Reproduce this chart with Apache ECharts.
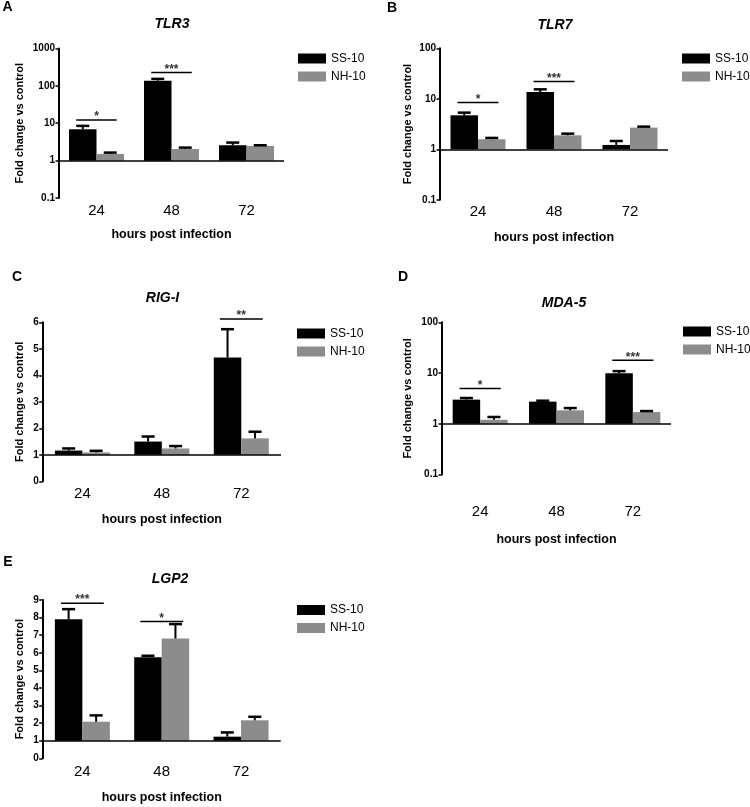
<!DOCTYPE html>
<html><head><meta charset="utf-8">
<script src="https://cdn.jsdelivr.net/npm/echarts@6/dist/echarts.min.js"></script>
<style>html,body{margin:0;padding:0;background:#fff}#c{width:750px;height:807px}</style>
</head><body><div id="c"></div>
<script>
// ---------- data ----------
const categories = ['24', '48', '72'];
const seriesNames = ['SS-10', 'NH-10'];

// TLR3 (log)
const tlr3SS = [6.9, 138, 2.58];
const tlr3SSErr = [8.5, 154, 3.04];
const tlr3NH = [1.51, 2.05, 2.47];
const tlr3NHErr = [1.64, 2.23, 2.58];
const tlr3Sig = [[0, 12.3, '*'], [1, 227, '***']];

// TLR7 (log)
const tlr7SS = [4.71, 13.6, 1.22];
const tlr7SSErr = [5.32, 15.4, 1.46];
const tlr7NH = [1.58, 1.89, 2.69];
const tlr7NHErr = [1.68, 2.04, 2.81];
const tlr7Sig = [[0, 8.4, '*'], [1, 21.9, '***']];

// RIG-I (linear)
const rigSS = [1.16, 1.50, 4.67];
const rigSSErr = [1.24, 1.69, 5.74];
const rigNH = [1.09, 1.24, 1.62];
const rigNHErr = [1.15, 1.33, 1.87];
const rigSig = [[2, 6.12, '**']];

// MDA-5 (log)
const mdaSS = [2.99, 2.73, 9.93];
const mdaSSErr = [3.22, 2.85, 10.9];
const mdaNH = [1.2, 1.84, 1.70];
const mdaNHErr = [1.36, 2.04, 1.78];
const mdaSig = [[0, 4.93, '*'], [2, 17.9, '***']];

// LGP2 (linear)
const lgpSS = [7.91, 5.75, 1.23];
const lgpSSErr = [8.48, 5.83, 1.47];
const lgpNH = [2.08, 6.81, 2.16];
const lgpNHErr = [2.44, 7.63, 2.36];
const lgpSig = [[0, 8.82, '***'], [1, 7.78, '*']];

// ---------- styling / layout ----------
const FONT = '"Liberation Sans", Arial, Helvetica, sans-serif';
const BLACK = '#000000';
const GREY = '#8c8c8c';
const BARW = 27.5;
const CAPW = 13;

const panels = [
  { letter: 'A', title: 'TLR3', log: true, min: 0.1, max: 1000,
    ss: tlr3SS, ssErr: tlr3SSErr, nh: tlr3NH, nhErr: tlr3NHErr, sig: tlr3Sig,
    grid: { left: 59, top: 48.5, width: 225, height: 149.5 },
    letterPos: [7.5, 7], titlePos: [172, 24],
    yNameGap: 34, xNameGap: 30.5, catMargin: 5.5,
    legend: { left: 298, top: 49.5 } },
  { letter: 'B', title: 'TLR7', log: true, min: 0.1, max: 100,
    ss: tlr7SS, ssErr: tlr7SSErr, nh: tlr7NH, nhErr: tlr7NHErr, sig: tlr7Sig,
    grid: { left: 440, top: 48.3, width: 228, height: 151.5 },
    letterPos: [392, 8], titlePos: [555, 25],
    yNameGap: 27, xNameGap: 31.7, catMargin: 4.7,
    legend: { left: 682, top: 49.5 } },
  { letter: 'C', title: 'RIG-I', log: false, min: 0, max: 6,
    ss: rigSS, ssErr: rigSSErr, nh: rigNH, nhErr: rigNHErr, sig: rigSig,
    grid: { left: 42.7, top: 322.3, width: 238.3, height: 159 },
    letterPos: [17, 277], titlePos: [162.5, 298],
    yNameGap: 17.7, xNameGap: 32, catMargin: 5,
    legend: { left: 297, top: 324.5 } },
  { letter: 'D', title: 'MDA-5', log: true, min: 0.1, max: 100,
    ss: mdaSS, ssErr: mdaSSErr, nh: mdaNH, nhErr: mdaNHErr, sig: mdaSig,
    grid: { left: 442, top: 322.3, width: 229, height: 152.2 },
    letterPos: [403, 277], titlePos: [564, 303],
    yNameGap: 29, xNameGap: 59, catMargin: 30,
    legend: { left: 683, top: 322.5 } },
  { letter: 'E', title: 'LGP2', log: false, min: 0, max: 9,
    ss: lgpSS, ssErr: lgpSSErr, nh: lgpNH, nhErr: lgpNHErr, sig: lgpSig,
    grid: { left: 42.7, top: 600, width: 238, height: 158.3 },
    letterPos: [8, 562], titlePos: [170, 579],
    yNameGap: 17.7, xNameGap: 33, catMargin: 6,
    legend: { left: 297, top: 601 } }
];

// ---------- build option ----------
const grids = [], xAxes = [], yAxes = [], series = [], legends = [], graphics = [];

function errRenderer(side) {
  return function (params, api) {
    const i = api.value(0), v = api.value(1), e = api.value(2);
    const pB = api.coord([i, v]);
    const pE = api.coord([i, e]);
    const x = pB[0] + side * BARW / 2;
    return { type: 'group', children: [
      { type: 'line', shape: { x1: x, y1: pB[1], x2: x, y2: pE[1] }, style: { stroke: BLACK, lineWidth: 2 } },
      { type: 'line', shape: { x1: x - CAPW / 2, y1: pE[1], x2: x + CAPW / 2, y2: pE[1] }, style: { stroke: BLACK, lineWidth: 2.5 } }
    ] };
  };
}

function plainNumber(v) { return String(parseFloat(Number(v).toPrecision(6))); }

panels.forEach((p, g) => {
  grids.push(Object.assign({ containLabel: false }, p.grid));
  xAxes.push({
    type: 'category', gridIndex: g, data: categories,
    axisLine: { show: false, onZero: false }, axisTick: { show: false },
    axisLabel: { fontFamily: FONT, fontSize: 15, color: BLACK, margin: p.catMargin },
    splitLine: { show: false },
    name: 'hours post infection', nameLocation: 'middle', nameGap: p.xNameGap,
    nameTextStyle: { fontFamily: FONT, fontSize: 12.5, fontWeight: 'bold', color: BLACK }
  });
  const y = {
    type: p.log ? 'log' : 'value', gridIndex: g, min: p.min, max: p.max,
    axisLine: { show: true, lineStyle: { color: BLACK, width: 2 } },
    axisTick: { show: true, length: 3.5, lineStyle: { color: BLACK, width: 1.5 } },
    minorTick: { show: false },
    axisLabel: { fontFamily: FONT, fontSize: 10, fontWeight: 'bold', color: BLACK, margin: 4, formatter: plainNumber },
    splitLine: { show: false },
    name: 'Fold change vs control', nameLocation: 'middle', nameGap: p.yNameGap,
    nameTextStyle: { fontFamily: FONT, fontSize: 11, fontWeight: 'bold', color: BLACK }
  };
  if (p.log) { y.logBase = 10; } else { y.interval = 1; }
  yAxes.push(y);

  const barCommon = { type: 'bar', xAxisIndex: g, yAxisIndex: g, barWidth: BARW, barGap: '0%', silent: true };
  const baseLine = { silent: true, symbol: 'none', label: { show: false },
    lineStyle: { color: BLACK, width: 1.5, type: 'solid' }, data: [{ yAxis: 1 }], animation: false };

  if (p.log) {
    series.push(Object.assign({}, barCommon, { name: seriesNames[0], data: p.ss, itemStyle: { color: BLACK }, markLine: baseLine }));
    series.push(Object.assign({}, barCommon, { name: seriesNames[1], data: p.nh, itemStyle: { color: GREY } }));
  } else {
    const ones = categories.map(() => 1);
    series.push(Object.assign({}, barCommon, { name: 'base-ss', stack: 'ss' + g, data: ones, itemStyle: { color: 'rgba(0,0,0,0)' } }));
    series.push(Object.assign({}, barCommon, { name: seriesNames[0], stack: 'ss' + g, data: p.ss.map(v => v - 1), itemStyle: { color: BLACK }, markLine: baseLine }));
    series.push(Object.assign({}, barCommon, { name: 'base-nh', stack: 'nh' + g, data: ones, itemStyle: { color: 'rgba(0,0,0,0)' } }));
    series.push(Object.assign({}, barCommon, { name: seriesNames[1], stack: 'nh' + g, data: p.nh.map(v => v - 1), itemStyle: { color: GREY } }));
  }

  series.push({ type: 'custom', name: 'err-ss', xAxisIndex: g, yAxisIndex: g, z: 5, silent: true, clip: false,
    renderItem: errRenderer(-1), data: categories.map((c, i) => [i, p.ss[i], p.ssErr[i]]) });
  series.push({ type: 'custom', name: 'err-nh', xAxisIndex: g, yAxisIndex: g, z: 5, silent: true, clip: false,
    renderItem: errRenderer(1), data: categories.map((c, i) => [i, p.nh[i], p.nhErr[i]]) });
  series.push({ type: 'custom', name: 'sig', xAxisIndex: g, yAxisIndex: g, z: 5, silent: true, clip: false,
    data: p.sig.map(s => [s[0], s[1]]),
    renderItem: function (params, api) {
      const s = p.sig[params.dataIndex];
      const pt = api.coord([s[0], s[1]]);
      const cw = api.size([1, 0])[0];
      return { type: 'group', children: [
        { type: 'line', shape: { x1: pt[0] - 0.27 * cw, y1: pt[1], x2: pt[0] + 0.27 * cw, y2: pt[1] }, style: { stroke: BLACK, lineWidth: 1.5 } },
        { type: 'text', x: pt[0], y: pt[1] + 3, style: { text: s[2], textAlign: 'center', textVerticalAlign: 'bottom', font: 'bold 12px ' + FONT, fill: '#333' } }
      ] };
    } });

  legends.push({
    data: seriesNames, orient: 'vertical', left: p.legend.left, top: p.legend.top,
    padding: 0, itemGap: 0, itemWidth: 28, itemHeight: 10, icon: 'rect', selectedMode: false,
    textStyle: { fontFamily: FONT, fontSize: 12, color: BLACK, lineHeight: 18 }
  });

  graphics.push({ type: 'text', x: p.letterPos[0], y: p.letterPos[1],
    style: { text: p.letter, font: 'bold 14px ' + FONT, fill: BLACK, textAlign: 'center', textVerticalAlign: 'middle' } });
  graphics.push({ type: 'text', x: p.titlePos[0], y: p.titlePos[1],
    style: { text: p.title, font: 'italic bold 14px ' + FONT, fill: BLACK, textAlign: 'center', textVerticalAlign: 'middle' } });
});

const chart = echarts.init(document.getElementById('c'), null, { renderer: 'canvas' });
chart.setOption({
  animation: false,
  backgroundColor: '#ffffff',
  grid: grids, xAxis: xAxes, yAxis: yAxes, series: series, legend: legends,
  graphic: graphics
});
</script>
</body></html>
